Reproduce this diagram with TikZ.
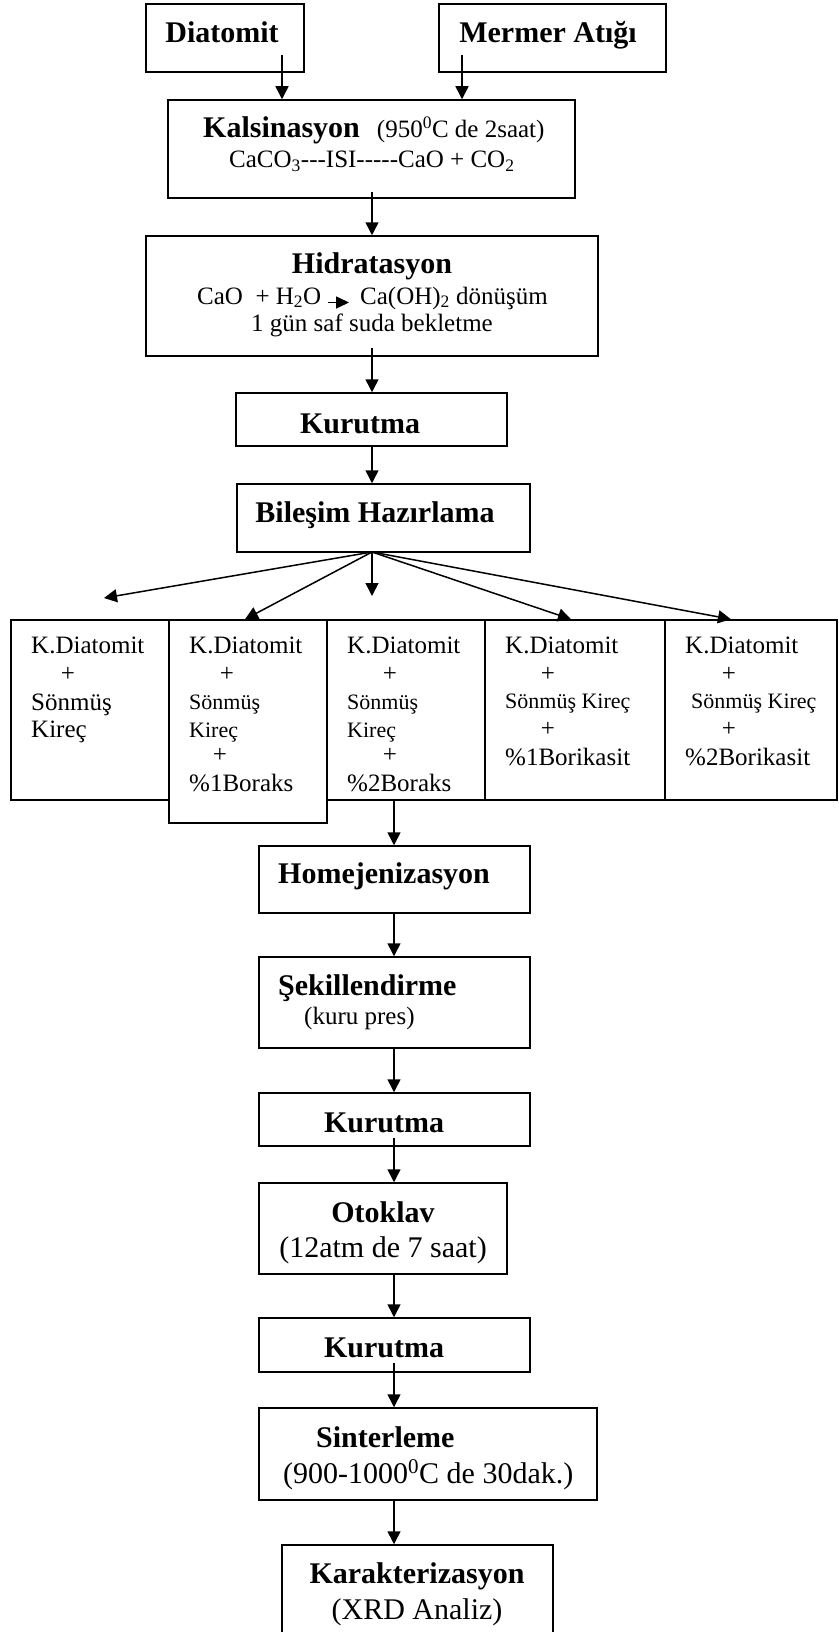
\documentclass[tikz,border=0pt]{standalone}
\usepackage{fontspec}
\setmainfont{Liberation Serif}
\usetikzlibrary{arrows.meta,fit}
\begin{document}
\begin{tikzpicture}[x=1pt,y=-1pt,
  box/.style={draw, line width=1.5pt, inner sep=0pt, rectangle},
  arr/.style={line width=1.5pt, -{Triangle[length=13pt,width=13pt]}},
  hb/.style={inner sep=0pt, font=\fontsize{30}{36}\selectfont\bfseries},
  rg/.style={inner sep=0pt, font=\fontsize{25}{30}\selectfont},
  rgl/.style={inner sep=0pt, font=\fontsize{30}{36}\selectfont},
  rgs/.style={inner sep=0pt, font=\fontsize{22}{26}\selectfont}]
\useasboundingbox (0,0) rectangle (838,1632);

% ---------- top boxes ----------
\node[box, fit={(146,4) (304,72)}] (dia) {};
\node[box, fit={(439,4) (666,72)}] (mer) {};
\node[hb, anchor=base] (tdia) at (222,43) {Diatomit};
\node[hb, anchor=base] (tmer) at (548,43) {Mermer Atığı};

\node[box, fit={(168,100) (575,198)}] (kal) {};
\node[inner sep=0pt, anchor=base west] (tkal1) at (203,138)
  {{\fontsize{30}{36}\selectfont\bfseries Kalsinasyon}\hspace{17pt}{\fontsize{25}{30}\selectfont(950\textsuperscript{0}C de 2saat)}};
\node[rg, anchor=base west] (tkal2) at (229,168)
  {CaCO\textsubscript{3}-{}-{}-ISI-{}-{}-{}-{}-CaO + CO\textsubscript{2}};

\node[box, fit={(146,236) (598,356)}] (hid) {};
\node[hb, anchor=base] (thid) at (372,273) {Hidratasyon};
\node[rg, anchor=base west] (thid2a) at (197,304) {CaO\ \ + H\textsubscript{2}O};
\node[rg, anchor=base west] (thid2b) at (360,304) {Ca(OH)\textsubscript{2} dönüşüm};
\node[rg, anchor=base] (thid3) at (372,331) {1 gün saf suda bekletme};
\draw[line width=1.5pt, -{Triangle[length=13pt,width=12pt]}]
  ([xshift=7pt,yshift=1.5pt]thid2a.base east) -- ([xshift=-11pt,yshift=1.5pt]thid2b.base west);

\node[box, fit={(236,393) (507,446)}] (kur1) {};
\node[hb, anchor=base] (tkur1) at (360,433) {Kurutma};

\node[box, fit={(237,484) (530,552)}] (bil) {};
\node[hb, anchor=base] (tbil) at (375,522) {Bileşim Hazırlama};

% ---------- top connectors ----------
\coordinate (a1) at (282,55);
\coordinate (a2) at (462,55);
\coordinate (a3) at (372,192);
\coordinate (a4) at (372,348);
\draw[arr] (a1) -- (kal.north -| a1);
\draw[arr] (a2) -- (kal.north -| a2);
\draw[arr] (a3) -- (hid.north -| a3);
\draw[arr] (a4) -- (kur1.north -| a4);
\draw[arr] (kur1.south -| a4) -- (bil.north -| a4);

% ---------- row of mixtures ----------
\node[box, fit={(11,620) (169,800)}] (b1) {};
\node[box, fit={(327,620) (485,800)}] (b3) {};
\node[box, fit={(485,620) (665,800)}] (b4) {};
\node[box, fit={(665,620) (837,800)}] (b5) {};
\node[box, fit={(169,620) (327,823)}] (b2) {};

\node[rg, anchor=base west] (t1a) at (31,653) {K.Diatomit};
\node[rg, anchor=base] (t1b) at (68,681) {+};
\node[rg, anchor=base west] (t1c) at (31,710) {Sönmüş};
\node[rg, anchor=base west] (t1d) at (31,737) {Kireç};

\node[rg, anchor=base west] (t2a) at (189,653) {K.Diatomit};
\node[rg, anchor=base] (t2b) at (227,681) {+};
\node[rgs, anchor=base west] (t2c) at (189,709) {Sönmüş};
\node[rgs, anchor=base west] (t2d) at (189,737) {Kireç};
\node[rg, anchor=base] (t2e) at (220,762) {+};
\node[rg, anchor=base west] (t2f) at (189,791) {\%1Boraks};

\node[rg, anchor=base west] (t3a) at (347,653) {K.Diatomit};
\node[rg, anchor=base] (t3b) at (390,681) {+};
\node[rgs, anchor=base west] (t3c) at (347,709) {Sönmüş};
\node[rgs, anchor=base west] (t3d) at (347,737) {Kireç};
\node[rg, anchor=base] (t3e) at (390,762) {+};
\node[rg, anchor=base west] (t3f) at (347,791) {\%2Boraks};

\node[rg, anchor=base west] (t4a) at (505,653) {K.Diatomit};
\node[rg, anchor=base] (t4b) at (548,681) {+};
\node[rgs, anchor=base west] (t4c) at (505,708) {Sönmüş Kireç};
\node[rg, anchor=base] (t4d) at (548,736) {+};
\node[rg, anchor=base west] (t4e) at (505,765) {\%1Borikasit};

\node[rg, anchor=base west] (t5a) at (685,653) {K.Diatomit};
\node[rg, anchor=base] (t5b) at (729,681) {+};
\node[rgs, anchor=base west] (t5c) at (691,708) {Sönmüş Kireç};
\node[rg, anchor=base] (t5d) at (729,736) {+};
\node[rg, anchor=base west] (t5e) at (685,765) {\%2Borikasit};

% ---------- fan ----------
\coordinate (fan) at (372,552);
\coordinate (f1) at (104,598);
\coordinate (f2) at (245,620);
\coordinate (f3) at (372,596);
\coordinate (f4) at (571,620);
\coordinate (f5) at (731,620);
\draw[arr] (fan) -- (f1);
\draw[arr] (fan) -- (b2.north -| f2);
\draw[arr] (fan) -- (f3);
\draw[arr] (fan) -- (b4.north -| f4);
\draw[arr] (fan) -- (b5.north -| f5);

% ---------- lower chain ----------
\node[box, fit={(259,846) (530,913)}] (hom) {};
\node[hb, anchor=base west] (thom) at (278,883) {Homejenizasyon};

\node[box, fit={(259,957) (530,1048)}] (sek) {};
\node[hb, anchor=base west] (tsek1) at (278,995) {Şekillendirme};
\node[rg, anchor=base west] (tsek2) at (304,1024) {(kuru pres)};

\node[box, fit={(259,1093) (530,1146)}] (kur2) {};
\node[hb, anchor=base] (tkur2) at (384,1132) {Kurutma};

\node[box, fit={(259,1183) (507,1274)}] (oto) {};
\node[hb, anchor=base] (toto1) at (383,1222) {Otoklav};
\node[rgl, anchor=base] (toto2) at (383,1257) {(12atm de 7 saat)};

\node[box, fit={(259,1318) (530,1372)}] (kur3) {};
\node[hb, anchor=base] (tkur3) at (384,1357) {Kurutma};

\node[box, fit={(259,1408) (597,1500)}] (sin) {};
\node[hb, anchor=base west] (tsin1) at (316,1447) {Sinterleme};
\node[rgl, anchor=base west] (tsin2) at (283,1483) {(900-1000\textsuperscript{0}C de 30dak.)};

\node[box, fit={(282,1545) (553,1650)}] (kar) {};
\node[hb, anchor=base] (tkar1) at (417,1583) {Karakterizasyon};
\node[rgl, anchor=base] (tkar2) at (417,1619) {(XRD Analiz)};

% ---------- lower connectors ----------
\coordinate (c1) at (394,800);
\coordinate (c2) at (394,1138);
\coordinate (c3) at (394,1363);
\draw[arr] (b3.south -| c1) -- (hom.north -| c1);
\draw[arr] (hom.south -| c1) -- (sek.north -| c1);
\draw[arr] (sek.south -| c1) -- (kur2.north -| c1);
\draw[arr] (c2) -- (oto.north -| c2);
\draw[arr] (oto.south -| c1) -- (kur3.north -| c1);
\draw[arr] (c3) -- (sin.north -| c3);
\draw[arr] (sin.south -| c1) -- (kar.north -| c1);
\end{tikzpicture}
\end{document}
